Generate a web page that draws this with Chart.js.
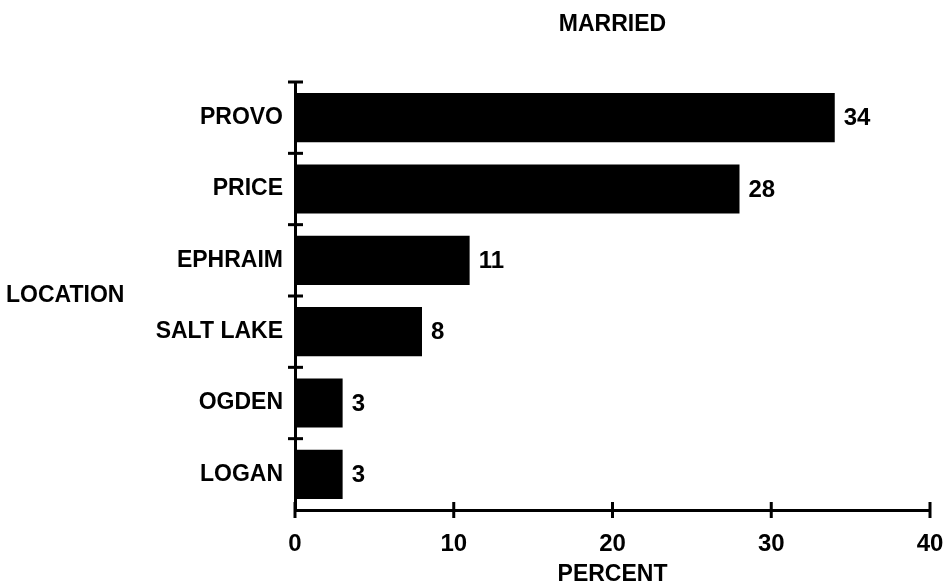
<!DOCTYPE html>
<html>
<head>
<meta charset="utf-8">
<style>
  html, body { margin: 0; padding: 0; background: #fff; }
  #wrap { width: 948px; height: 585px; }
</style>
<script src="https://cdn.jsdelivr.net/npm/chart.js@4.4.1/dist/chart.umd.min.js"></script>
</head>
<body>
<div id="wrap"><canvas id="c" width="948" height="585"></canvas></div>
<script>
// Share of married respondents by location (percent)
const locations = ["PROVO", "PRICE", "EPHRAIM", "SALT LAKE", "OGDEN", "LOGAN"];
const percentMarried = [34, 28, 11, 8, 3, 3];
const percentTicks = [0, 10, 20, 30, 40];
const chartTitle = "MARRIED";
const yTitle = "LOCATION";
const xTitle = "PERCENT";

const FONT = "'Liberation Sans', Arial, Helvetica, sans-serif";

// Titles, cross-shaped tick marks and value labels
const decorations = {
  id: "decorations",
  afterDatasetsDraw(chart) {
    const { ctx, chartArea, scales } = chart;
    const x = scales.x, y = scales.y;
    ctx.save();
    ctx.fillStyle = "#000";
    ctx.strokeStyle = "#000";

    // value labels at the bar ends
    ctx.font = "bold 24px " + FONT;
    ctx.textAlign = "left";
    ctx.textBaseline = "middle";
    const meta = chart.getDatasetMeta(0);
    meta.data.forEach((bar, i) => {
      ctx.fillText(String(percentMarried[i]), bar.x + 9, bar.y + 1);
    });

    // x-axis cross ticks
    ctx.lineWidth = 3;
    percentTicks.forEach(v => {
      const px = x.getPixelForValue(v);
      ctx.beginPath();
      ctx.moveTo(px, chartArea.bottom - 8);
      ctx.lineTo(px, chartArea.bottom + 8);
      ctx.stroke();
    });

    // y-axis ticks at category boundaries
    const band = (y.bottom - y.top) / locations.length;
    for (let k = 0; k < locations.length; k++) {
      const py = y.top + k * band;
      ctx.beginPath();
      ctx.moveTo(chartArea.left - 7, py);
      ctx.lineTo(chartArea.left + 8, py);
      ctx.stroke();
    }

    // titles
    ctx.font = "bold 23px " + FONT;
    ctx.textAlign = "center";
    ctx.textBaseline = "middle";
    const cx = (chartArea.left + chartArea.right) / 2;
    ctx.fillText(chartTitle, cx, 25);
    ctx.fillText(xTitle, cx, 575);
    ctx.textAlign = "left";
    ctx.fillText(yTitle, 6, 296);
    ctx.restore();
  }
};

new Chart(document.getElementById("c"), {
  type: "bar",
  data: {
    labels: locations,
    datasets: [{
      data: percentMarried,
      backgroundColor: "#000",
      borderWidth: 0,
      barPercentage: 0.69,
      categoryPercentage: 1.0
    }]
  },
  options: {
    indexAxis: "y",
    responsive: false,
    animation: false,
    devicePixelRatio: 1,
    layout: { padding: { left: 0, right: 18, top: 82, bottom: 0 } },
    plugins: {
      legend: { display: false },
      title: { display: false },
      tooltip: { enabled: false }
    },
    scales: {
      x: {
        type: "linear",
        min: 0,
        max: 40,
        afterBuildTicks(scale) {
          scale.ticks = percentTicks.map(v => ({ value: v }));
        },
        afterFit(scale) {
          scale.height = 75;
          scale.paddingLeft = 0;
          scale.paddingRight = 0;
        },
        grid: { display: false, drawTicks: false },
        border: { display: true, color: "#000", width: 3 },
        ticks: {
          color: "#000",
          padding: 20,
          font: { family: FONT, size: 24, weight: "bold" }
        }
      },
      y: {
        type: "category",
        offset: true,
        afterFit(scale) { scale.width = 295; },
        grid: { display: false, drawTicks: false },
        border: { display: true, color: "#000", width: 3 },
        ticks: {
          color: "#000",
          padding: 12,
          font: { family: FONT, size: 23, weight: "bold" }
        }
      }
    }
  },
  plugins: [decorations]
});
</script>
</body>
</html>
